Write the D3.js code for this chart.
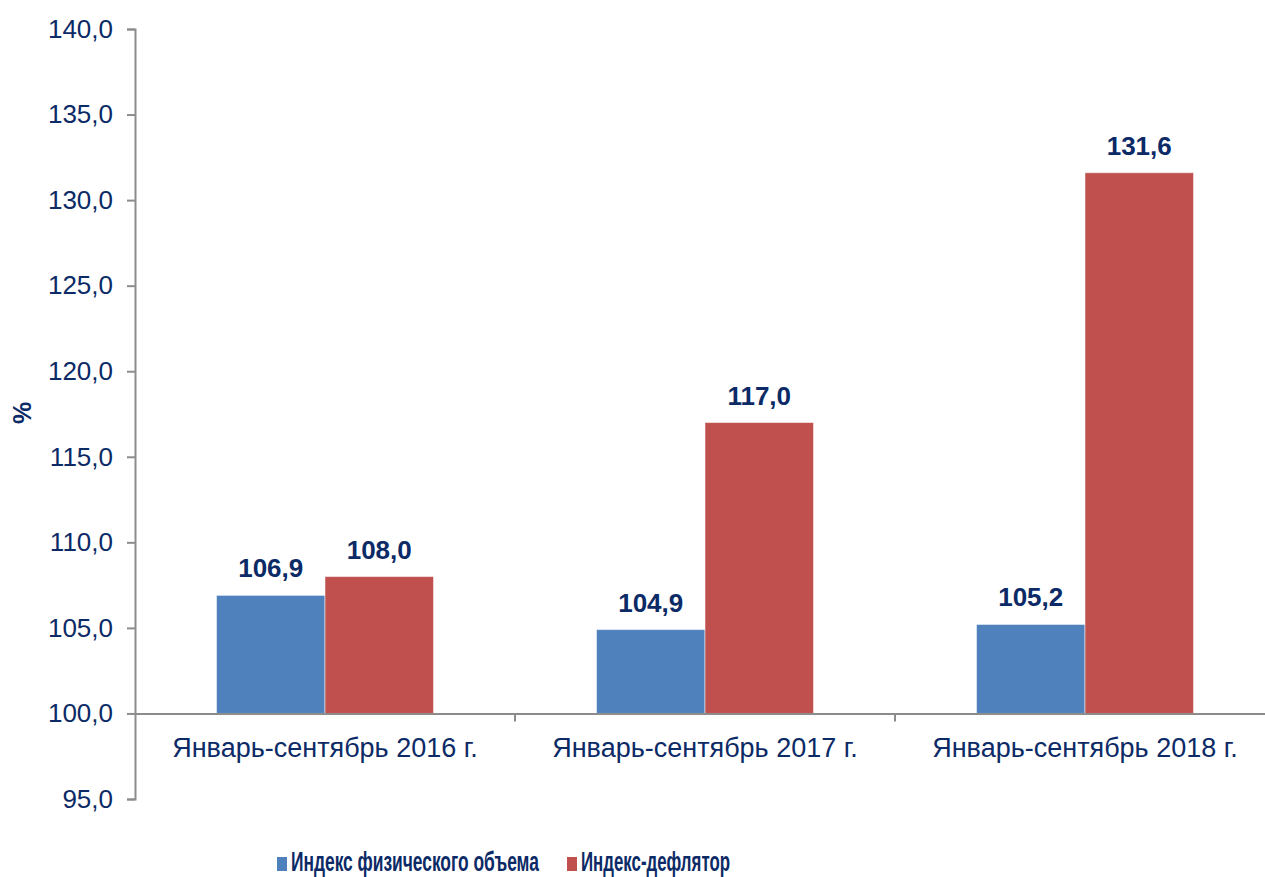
<!DOCTYPE html>
<html>
<head>
<meta charset="utf-8">
<script src="https://cdn.jsdelivr.net/npm/d3@7"></script>
<style>
  body { margin: 0; background: #fff; }
  text { font-family: "Liberation Sans", Arial, sans-serif; }
</style>
</head>
<body>
<script>
// data
const categories = ["Январь-сентябрь 2016 г.", "Январь-сентябрь 2017 г.", "Январь-сентябрь 2018 г."];
const seriesNames = ["Индекс физического объема", "Индекс-дефлятор"];
const volumeIndex = [106.9, 104.9, 105.2];
const deflatorIndex = [108.0, 117.0, 131.6];
const yTicks = [95, 100, 105, 110, 115, 120, 125, 130, 135, 140];

const w = 1265, h = 877;
const colors = ["#4F81BD", "#C0504D"];
const textColor = "#0B2A66";
const axisColor = "#8C8C8C";
const fmt = v => v.toFixed(1).replace(".", ",");

const svg = d3.select("body").append("svg")
  .attr("width", w).attr("height", h);

// scales
const x0 = d3.scaleBand().domain(categories).range([135, 1275]).paddingInner(0).paddingOuter(0);
const yScale = d3.scaleLinear().domain([95, 140]).range([799, 29]);

const rows = categories.map((c, i) => ({ cat: c, vals: [volumeIndex[i], deflatorIndex[i]] }));
const barW = 108.5;

// y axis
const yAxis = d3.axisLeft(yScale).tickValues(yTicks).tickFormat(fmt).tickSizeOuter(0).tickSize(8).tickPadding(14);
const gy = svg.append("g").attr("transform", "translate(135,0)").call(yAxis);
gy.select(".domain").attr("stroke", axisColor).attr("stroke-width", 2);
gy.selectAll(".tick line").attr("stroke", axisColor).attr("stroke-width", 2);
gy.selectAll(".tick text").attr("fill", textColor).style("font-size", "26px").attr("font-family", null);

// y title
svg.append("text")
  .attr("transform", "translate(31,413) rotate(-90)")
  .attr("text-anchor", "middle")
  .attr("fill", textColor)
  .style("font-size", "25px").style("font-weight", "bold")
  .text("%");

// bars
const groups = svg.selectAll(".grp").data(rows).enter().append("g")
  .attr("class", "grp")
  .attr("transform", d => `translate(${x0(d.cat) + x0.bandwidth() / 2 - barW},0)`);

groups.selectAll("rect").data(d => d.vals).enter().append("rect")
  .attr("x", (d, i) => i * barW)
  .attr("y", d => yScale(d))
  .attr("width", barW)
  .attr("height", d => yScale(100) - yScale(d))
  .attr("fill", (d, i) => colors[i])
  .attr("stroke", "#ffffff").attr("stroke-opacity", 0.5).attr("stroke-width", 1);

groups.selectAll(".lbl").data(d => d.vals).enter().append("text")
  .attr("class", "lbl")
  .attr("x", (d, i) => i * barW + barW / 2)
  .attr("y", d => yScale(d) - 18)
  .attr("text-anchor", "middle")
  .attr("fill", textColor)
  .style("font-size", "26px").style("font-weight", "bold")
  .text(fmt);

// x axis at 100
const xAxis = d3.axisBottom(x0).tickSize(0).tickPadding(24);
const gx = svg.append("g").attr("transform", `translate(0,${yScale(100)})`).call(xAxis);
gx.select(".domain").attr("stroke", axisColor).attr("stroke-width", 2);
gx.selectAll(".tick text").attr("fill", textColor).style("font-size", "27px").attr("font-family", null);
// category separators
svg.selectAll(".sep").data(categories.slice(1)).enter().append("line")
  .attr("x1", d => x0(d)).attr("x2", d => x0(d))
  .attr("y1", yScale(100)).attr("y2", yScale(100) + 8)
  .attr("stroke", axisColor).attr("stroke-width", 2);

// legend
const legendX = [277, 567];
const legendW = [248, 149];
const lg = svg.selectAll(".leg").data(seriesNames).enter().append("g")
  .attr("transform", (d, i) => `translate(${legendX[i]},0)`);
lg.append("rect").attr("x", 0).attr("y", 857).attr("width", 10).attr("height", 14)
  .attr("fill", (d, i) => colors[i]);
lg.append("text")
  .attr("fill", textColor)
  .style("font-size", "27px").style("font-weight", "bold")
  .text(d => d)
  .each(function(d, i) {
    const tw = this.getComputedTextLength();
    d3.select(this).attr("transform", `translate(14,871) scale(${legendW[i] / tw},1)`);
  });
</script>
</body>
</html>
